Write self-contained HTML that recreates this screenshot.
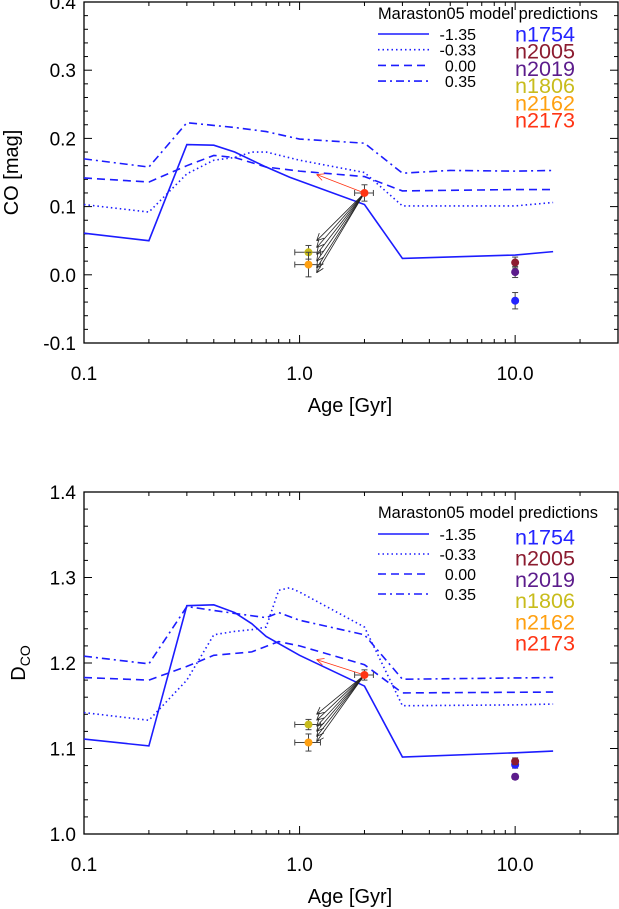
<!DOCTYPE html>
<html><head><meta charset="utf-8"><style>
html,body{margin:0;padding:0;background:#fff;width:619px;height:909px;overflow:hidden}
svg{display:block;font-family:"Liberation Sans",sans-serif}
</style></head><body>
<svg id="fig" width="619" height="909" viewBox="0 0 619 909" xmlns="http://www.w3.org/2000/svg"></svg>
<script>
// ---- data ----
const modelNames = ["-1.35","-0.33","0.00","0.35"];
const galaxyNames = ["n1754","n2005","n2019","n1806","n2162","n2173"];
const galaxyColors = ["#2424ff","#8c1c30","#5c1c8c","#c8bc1c","#ffa010","#ff3414"];
const galaxyAges = [10,10,10,1.1,1.1,2.0];
const galaxyAgeErr = [0,0,0,0.15,0.15,0.2];
// top panel CO
const coAgesSolid = [0.1,0.2,0.3,0.4,0.5,0.7,0.9,2,3,10,15];
const coSolid = [0.061,0.050,0.191,0.190,0.180,0.158,0.143,0.103,0.024,0.029,0.034];
const coAgesDot = [0.1,0.2,0.3,0.4,0.5,0.6,0.7,1,2,3,10,15];
const coDot = [0.103,0.092,0.148,0.168,0.172,0.180,0.180,0.168,0.150,0.101,0.101,0.106];
const coAgesDash = [0.1,0.2,0.3,0.4,0.5,0.7,1,2,3,10,15];
const coDash = [0.142,0.136,0.160,0.175,0.172,0.158,0.152,0.144,0.123,0.125,0.125];
const coAgesDD = [0.1,0.2,0.3,0.5,0.7,1,2,3,5,10,15];
const coDD = [0.170,0.158,0.223,0.216,0.210,0.199,0.193,0.149,0.153,0.152,0.153];
const coGal = [-0.038,0.018,0.004,0.033,0.015,0.120];
const coGalErr = [0.012,0.008,0.008,0.010,0.018,0.012];
const coRedArrow = [1.2,0.147];
const coBlackArrows = [0.050,0.040,0.030,0.020,0.010,0.003];
// bottom panel DCO
const dAgesSolid = [0.1,0.2,0.3,0.4,0.5,0.6,0.7,1,2,3,10,15];
const dSolid = [1.111,1.103,1.267,1.268,1.259,1.246,1.231,1.209,1.173,1.090,1.095,1.097];
const dAgesDot = [0.1,0.2,0.3,0.4,0.5,0.6,0.7,0.8,0.9,1,2,3,10,15];
const dDot = [1.142,1.133,1.180,1.233,1.237,1.239,1.242,1.285,1.288,1.283,1.242,1.150,1.151,1.152];
const dAgesDash = [0.1,0.2,0.3,0.4,0.6,0.8,1,2,3,15];
const dDash = [1.183,1.180,1.196,1.209,1.213,1.225,1.220,1.198,1.165,1.166];
const dAgesDD = [0.1,0.2,0.3,0.5,0.7,0.8,1,2,3,15];
const dDD = [1.208,1.199,1.266,1.258,1.253,1.259,1.250,1.233,1.181,1.183];
const dGal = [1.081,1.085,1.067,1.128,1.107,1.186];
const dGalErr = [0.004,0.004,0.003,0.006,0.010,0.006];
const dRedArrow = [1.2,1.204];
const dBlackArrows = [1.140,1.133,1.126,1.120,1.114,1.108];
const coYTicks = ["-0.1","0.0","0.1","0.2","0.3","0.4"];
const dYTicks = ["1.0","1.1","1.2","1.3","1.4"];
const xTicks = ["0.1","1.0","10.0"];

const NS="http://www.w3.org/2000/svg";
const svg=document.getElementById('fig');
function mk(tag,attrs,parent){const e=document.createElementNS(NS,tag);for(const k in attrs)e.setAttribute(k,attrs[k]);(parent||svg).appendChild(e);return e;}
const X0=84,X1=618,LMIN=-1,LMAX=Math.log10(30);
function xs(a){return X0+(Math.log10(a)-LMIN)/(LMAX-LMIN)*(X1-X0);}

function panel(cfg){
  const g=mk('g',{});
  
  
  const ys=v=>cfg.yb-(v-cfg.ymin)/(cfg.ymax-cfg.ymin)*(cfg.yb-cfg.yt);
  const fr=mk('rect',{x:X0,y:cfg.yt,width:X1-X0,height:cfg.yb-cfg.yt,fill:'none',stroke:'#000','stroke-width':1.3},g);
  
  
  for(let d=-1;d<=1;d++){for(let m=1;m<=9;m++){const a=m*Math.pow(10,d);if(a>30)continue;const x=xs(a);const L=m==1?8:4;
    mk('line',{x1:x,x2:x,y1:cfg.yb,y2:cfg.yb-L,stroke:'#000','stroke-width':1},g);
    mk('line',{x1:x,x2:x,y1:cfg.yt,y2:cfg.yt+L,stroke:'#000','stroke-width':1},g);}}
  xTicks.forEach(t=>{const e=mk('text',{x:xs(parseFloat(t)),y:cfg.yb+37,'text-anchor':'middle','font-size':19,fill:'#000'},g);e.textContent=t;
    
    });
  const step=0.1,minor=cfg.minor;
  for(let v=cfg.ymin;v<=cfg.ymax+1e-9;v+=minor){const y=ys(v);const major=Math.abs(Math.round(v/step)*step-v)<1e-6;const L=major?8:4;
    mk('line',{x1:X0,x2:X0+L,y1:y,y2:y,stroke:'#000','stroke-width':1},g);
    mk('line',{x1:X1,x2:X1-L,y1:y,y2:y,stroke:'#000','stroke-width':1},g);}
  cfg.yticks.forEach(t=>{const e=mk('text',{x:76,y:ys(parseFloat(t))+7,'text-anchor':'end','font-size':19,fill:'#000'},g);e.textContent=t;
    
    });
  const xt=mk('text',{x:350,y:cfg.yb+69,'text-anchor':'middle','font-size':20},g);xt.textContent='Age [Gyr]';
  
  
  const cy=(cfg.yt+cfg.yb)/2;
  const yt=mk('text',{x:0,y:0,'text-anchor':'middle','font-size':20,transform:`translate(${cfg.ytx},${cy}) rotate(-90)`},g);
  yt.innerHTML=cfg.ytitle;
  
  
  const dashes=['', '1.5 3', '8 5', '8 4 2 4'];
  cfg.series.forEach((s,i)=>{const p=mk('polyline',{points:s[0].map((a,j)=>xs(a)+','+ys(s[1][j])).join(' '),fill:'none',stroke:'#1c1cff','stroke-width':1.6,'stroke-dasharray':dashes[i]},g);
    
    });
  function arrow(x1,y1,x2,y2,col,name){const a=mk('g',{},g);
    
    
    mk('line',{x1,y1,x2,y2,stroke:col,'stroke-width':0.8},a);
    const ang=Math.atan2(y2-y1,x2-x1),h=8;
    [0.45,-0.45].forEach(d=>mk('line',{x1:x2,y1:y2,x2:x2-h*Math.cos(ang+d),y2:y2-h*Math.sin(ang+d),stroke:col,'stroke-width':0.8},a));}
  const sx=xs(galaxyAges[5]),sy=ys(cfg.gal[5]);
  arrow(sx,sy,xs(cfg.red[0]),ys(cfg.red[1]),'#ff3414','red-arrow');
  cfg.black.forEach(v=>arrow(sx,sy,xs(1.2),ys(v),'#222','black-arrow'));
  galaxyNames.forEach((n,i)=>{const pg=mk('g',{},g);
    
    
    const x=xs(galaxyAges[i]),y=ys(cfg.gal[i]);
    if(galaxyAgeErr[i]>0){const xa=xs(galaxyAges[i]-galaxyAgeErr[i]),xb=xs(galaxyAges[i]+galaxyAgeErr[i]);
      mk('line',{x1:xa,x2:xb,y1:y,y2:y,stroke:'#444','stroke-width':1},pg);
      mk('line',{x1:xa,x2:xa,y1:y-3,y2:y+3,stroke:'#444','stroke-width':1},pg);
      mk('line',{x1:xb,x2:xb,y1:y-3,y2:y+3,stroke:'#444','stroke-width':1},pg);}
    const ya=ys(cfg.gal[i]-cfg.err[i]),yb=ys(cfg.gal[i]+cfg.err[i]);
    mk('line',{x1:x,x2:x,y1:ya,y2:yb,stroke:'#444','stroke-width':1},pg);
    mk('line',{x1:x-3,x2:x+3,y1:ya,y2:ya,stroke:'#444','stroke-width':1},pg);
    mk('line',{x1:x-3,x2:x+3,y1:yb,y2:yb,stroke:'#444','stroke-width':1},pg);
    mk('circle',{cx:x,cy:y,r:4,fill:galaxyColors[i]},pg);});
  const lg=mk('g',{},g);
  
  
  const tt=mk('text',{x:378,y:cfg.lt,'font-size':16.5,textLength:220,lengthAdjust:'spacingAndGlyphs'},lg);tt.textContent='Maraston05 model predictions';
  modelNames.forEach((m,i)=>{const y=cfg.lr[0]+i*cfg.lr[1];
    const le=mk('g',{},lg);
    
    
    mk('line',{x1:378,x2:429,y1:y,y2:y,stroke:'#1c1cff','stroke-width':1.6,'stroke-dasharray':dashes[i]},le);
    const t=mk('text',{x:476,y:y+6,'text-anchor':'end','font-size':16},le);t.textContent=m;});
  galaxyNames.forEach((n,i)=>{const t=mk('text',{x:515,y:cfg.gn[0]+i*cfg.gn[1]+7.5,'font-size':21,fill:galaxyColors[i],textLength:60,lengthAdjust:'spacingAndGlyphs'},lg);t.textContent=n;
    
    });
}
panel({name:'co-panel',yt:2,yb:343,ymin:-0.1,ymax:0.4,minor:0.02,yticks:coYTicks,ytitle:'CO [mag]',ytx:18,
  series:[[coAgesSolid,coSolid],[coAgesDot,coDot],[coAgesDash,coDash],[coAgesDD,coDD]],
  gal:coGal,err:coGalErr,red:coRedArrow,black:coBlackArrows,lt:19,lr:[34,15.7],gn:[34,17.2]});
panel({name:'dco-panel',yt:492,yb:834,ymin:1.0,ymax:1.4,minor:0.02,yticks:dYTicks,ytitle:'D<tspan font-size="14" dy="5">CO</tspan>',ytx:25,
  series:[[dAgesSolid,dSolid],[dAgesDot,dDot],[dAgesDash,dDash],[dAgesDD,dDD]],
  gal:dGal,err:dGalErr,red:dRedArrow,black:dBlackArrows,lt:518,lr:[534,20],gn:[537,21.2]});
</script>
</body></html>
